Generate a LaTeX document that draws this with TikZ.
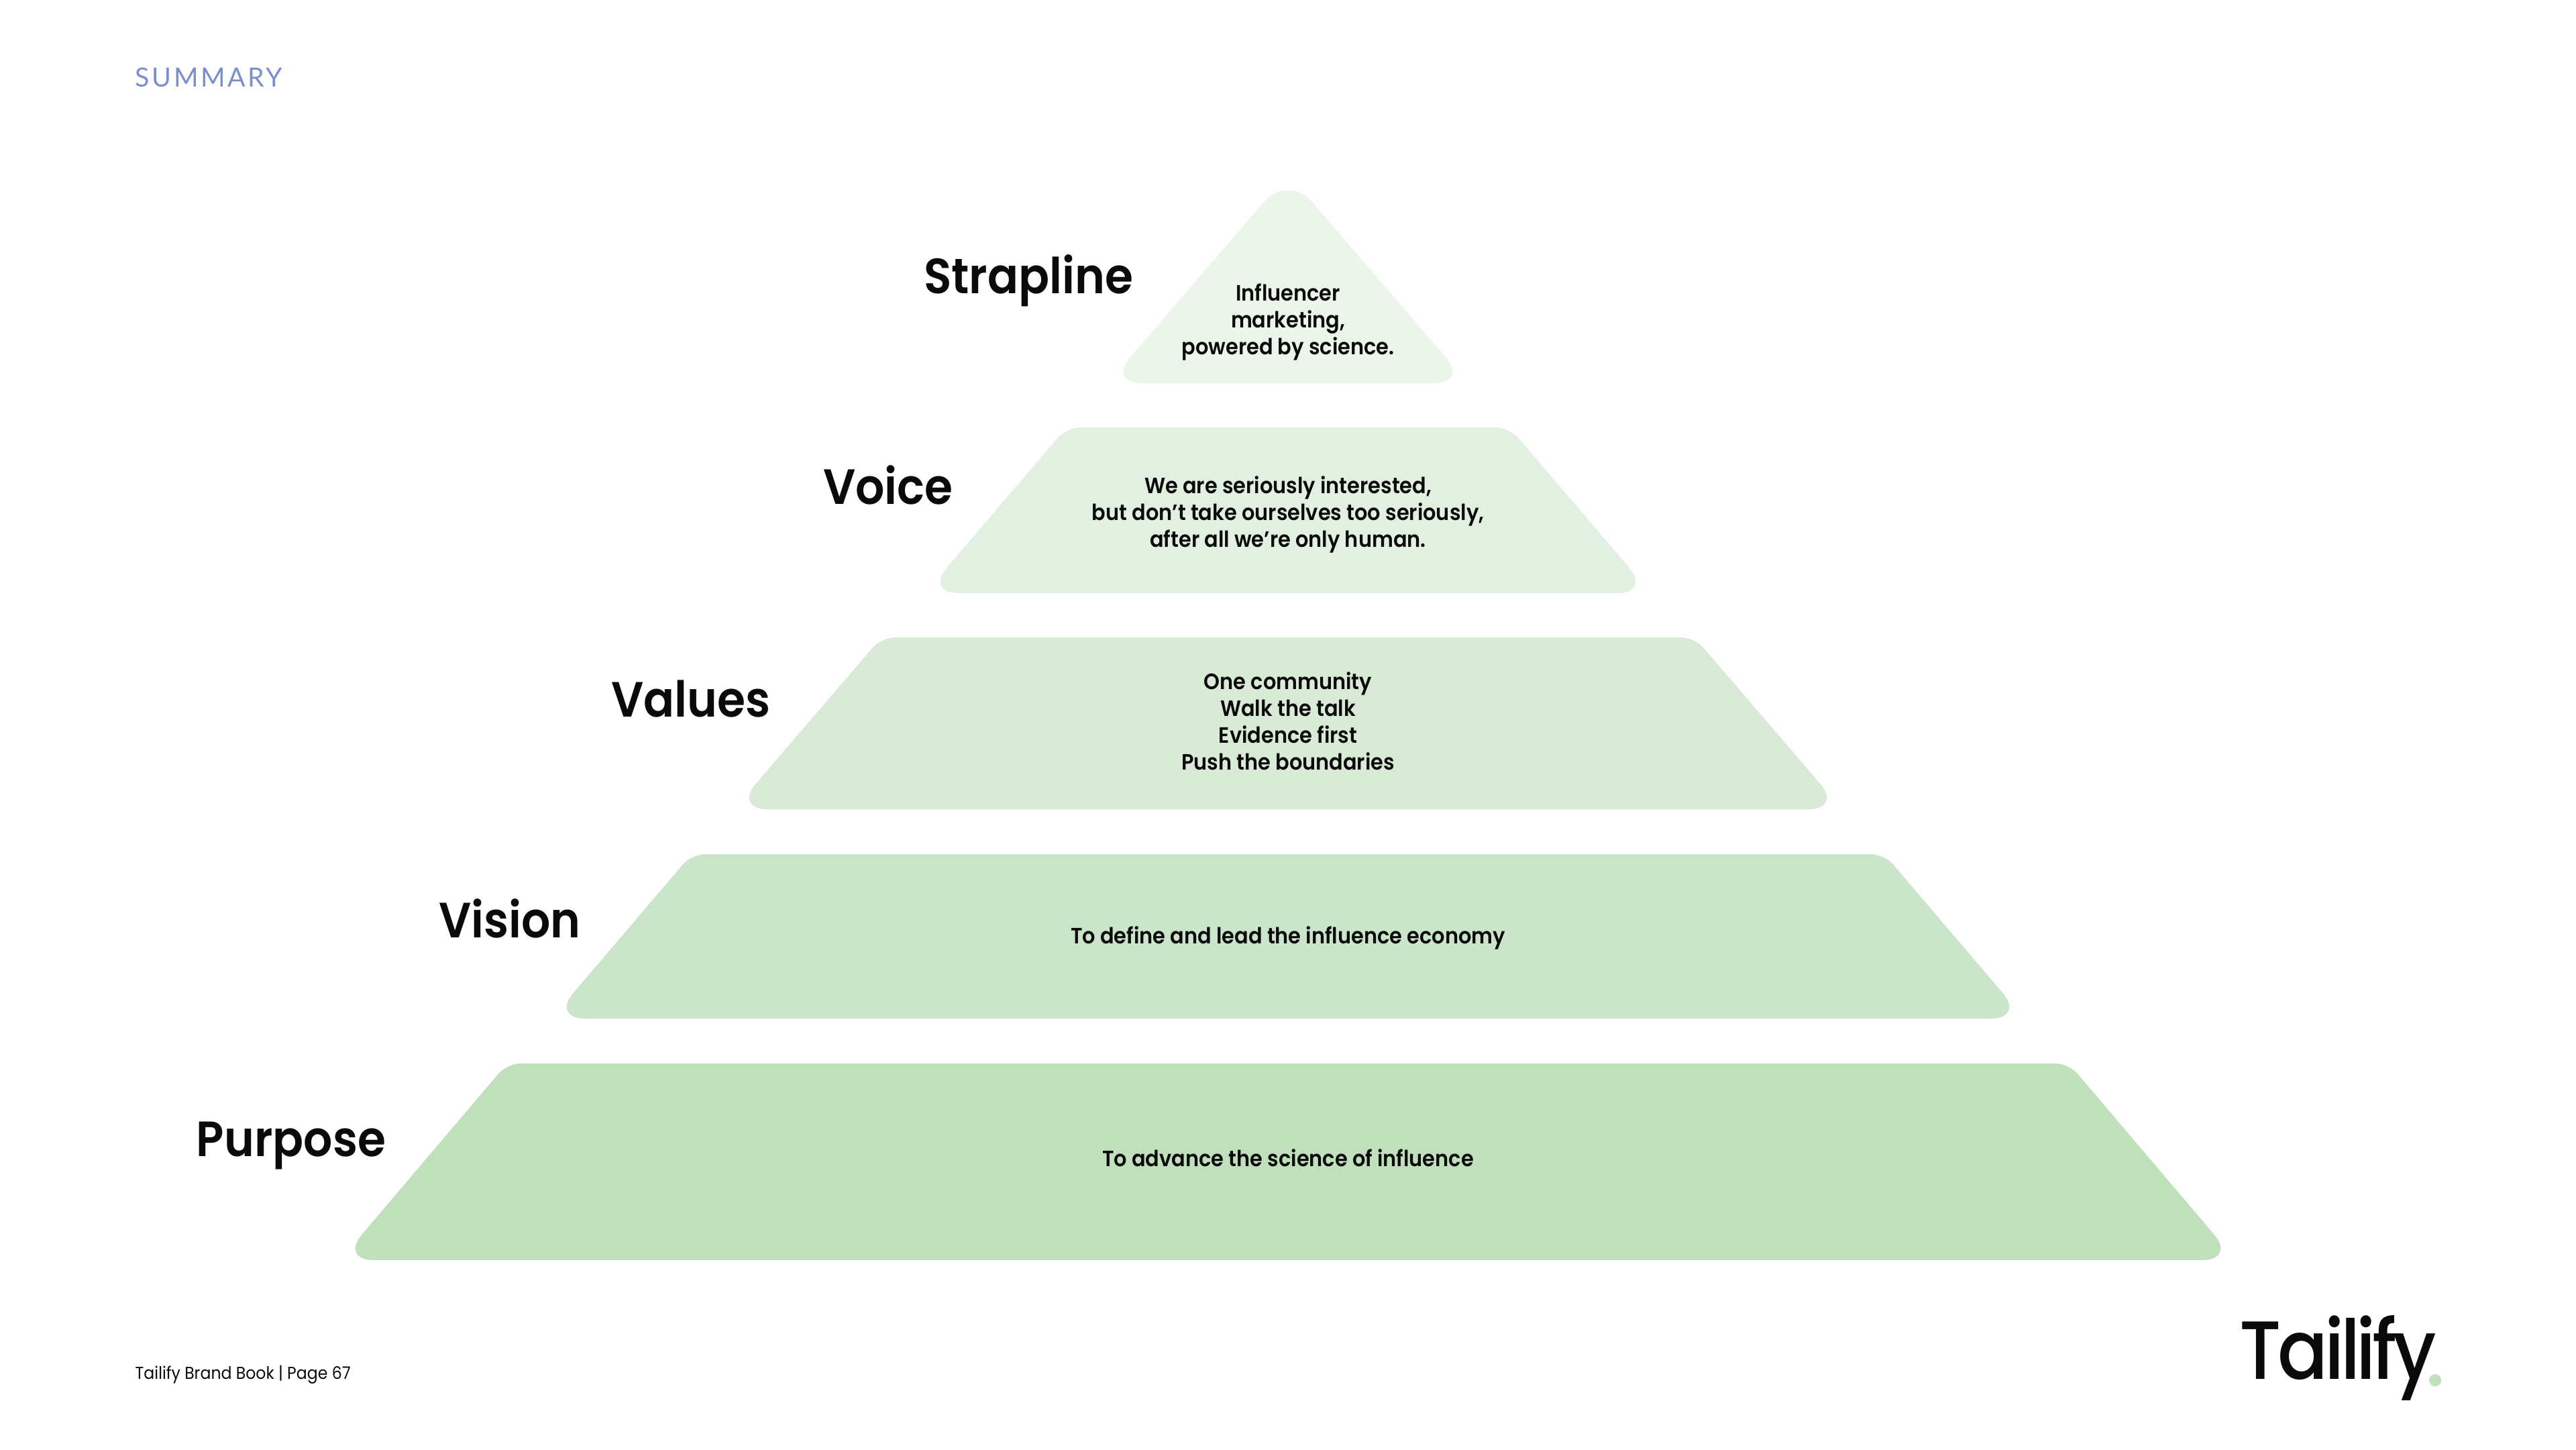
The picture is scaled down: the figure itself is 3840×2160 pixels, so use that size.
\documentclass[tikz,border=0pt]{standalone}
\usepackage{fontspec}
\setmainfont[FakeStretch=0.92, BoldFont={Poppins SemiBold}]{Poppins}
\newfontfamily\headfont{Lato}
\newfontfamily\logofont[FakeStretch=0.9, LetterSpace=-4.5]{Poppins Medium}
\usepackage{tikz}
\usetikzlibrary{positioning}
\definecolor{InkBlack}{HTML}{0A0A0A}
\definecolor{HeadBlue}{HTML}{7B8FD0}
\definecolor{TierOne}{HTML}{C0E0BC}
\definecolor{TierTwo}{HTML}{CBE5CA}
\definecolor{TierThree}{HTML}{D9EBD6}
\definecolor{TierFour}{HTML}{E2F0E1}
\definecolor{TierFive}{HTML}{EBF5EA}
\tikzset{
  low/.style={rounded corners=0.5cm},
  high/.style={rounded corners=0.2cm},
  tierlabel/.style={text=InkBlack, inner sep=0pt, font=\fontsize{21}{25}\selectfont\bfseries},
  tiertext/.style={text=InkBlack, align=center, inner sep=0pt, font=\fontsize{9.4}{11.4}\selectfont\bfseries},
  footer/.style={text=InkBlack, anchor=base west, inner sep=0pt, font=\fontsize{7.3}{9}\selectfont}
}
\begin{document}
\begin{tikzpicture}[x=0.01cm, y=-0.01cm]
\useasboundingbox (0,0) rectangle (3840,2160);

\fill[TierFive] (1920,571) [low] -- (1652,571) [rounded corners=0.55cm] -- (1920,259) [low] -- (2188,571) -- cycle;
\fill[TierFour] (1920,884) [low] -- (1379,884) [high] -- (1590,637) -- (2250,637) [low] -- (2461,884) -- cycle;
\fill[TierThree] (1920,1206) [low] -- (1094,1206) [high] -- (1314,950) -- (2526,950) [low] -- (2746,1206) -- cycle;
\fill[TierTwo] (1920,1518) [low] -- (822,1518) [high] -- (1031,1273) -- (2809,1273) [low] -- (3018,1518) -- cycle;
\fill[TierOne] (1920,1878) [low] -- (507,1878) [high] -- (756,1585) -- (3084,1585) [low] -- (3333,1878) -- cycle;

\node[tierlabel] (strapline) at (1533,418) {Strapline};
\node[tierlabel] (voice) at (1324,723) {Voice};
\node[tierlabel] (values) at (1030,1041) {Values};
\node[tierlabel] (vision) at (760,1369) {Vision};
\node[tierlabel] (purpose) at (434,1707) {Purpose};

\node[tiertext] (stext) at (1920,480) {Influencer\\marketing,\\powered by science.};
\node[tiertext] (vtext) at (1920,767) {We are seriously interested,\\but don’t take ourselves too seriously,\\after all we’re only human.};
\node[tiertext] (valtext) at (1920,1075) {One community\\Walk the talk\\Evidence first\\Push the boundaries};
\node[tiertext] (vistext) at (1920,1398) {To define and lead the influence economy};
\node[tiertext] (ptext) at (1920,1726) {To advance the science of influence};

\node[anchor=base west, inner sep=0pt, text=HeadBlue, font=\headfont\fontsize{11.2}{13}\selectfont] (summary) at (201,129) {\addfontfeature{LetterSpace=9}SUMMARY};
\node[footer] (page) at (201,2055) {Tailify Brand Book | Page 67};

\node[anchor=base west, inner sep=0pt, text=InkBlack, font=\logofont\fontsize{35}{40}\selectfont] (logo) at (3338,2055) {Tailify};
\node[circle, fill=TierOne, minimum size=0.18cm, inner sep=0pt] (dot) at (3630,2057) {};
\end{tikzpicture}
\end{document}
